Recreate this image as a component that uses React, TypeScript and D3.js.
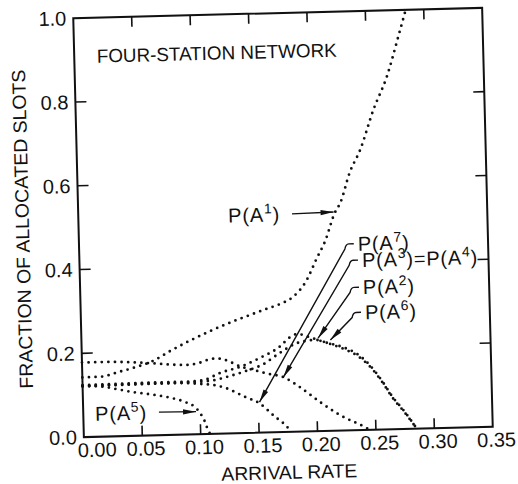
import React from 'react';
import * as d3 from 'd3';

const W = 518;
const H = 484;
const PLOT = { left: 78.5, right: 487.5, top: 13, bottom: 432 };
const ROT = -1.45;
const CX = 283;
const CY = 222.5;
const FONT = '"Liberation Sans", Arial, sans-serif';

// axis ticks
const xTicks = [0, 0.05, 0.1, 0.15, 0.2, 0.25, 0.3, 0.35];
const xTickLabels = ['0.00', '0.05', '0.10', '0.15', '0.20', '0.25', '0.30', '0.35'];
const yTicks = [0, 0.2, 0.4, 0.6, 0.8, 1.0];
const yTickLabels = ['0.0', '0.2', '0.4', '0.6', '0.8', '1.0'];

// series: P(A1)
const a1X = [0, 0.015, 0.032, 0.0435, 0.061, 0.0756, 0.093, 0.11, 0.13, 0.1476, 0.159, 0.171, 0.182, 0.194, 0.203, 0.2105, 0.2197, 0.2242, 0.2334, 0.2425, 0.2547, 0.267, 0.2777, 0.284];
const a1Y = [0.1425, 0.143, 0.154, 0.162, 0.178, 0.2, 0.224, 0.245, 0.267, 0.284, 0.295, 0.306, 0.322, 0.361, 0.412, 0.452, 0.521, 0.542, 0.617, 0.668, 0.763, 0.842, 0.937, 0.995];
// P(A3) = P(A4)
const a3X = [0, 0.02, 0.04, 0.06, 0.075, 0.09, 0.1, 0.108, 0.115, 0.122, 0.1365, 0.1464, 0.159, 0.172, 0.186, 0.203, 0.2196, 0.239, 0.245];
const a3Y = [0.178, 0.178, 0.176, 0.172, 0.168, 0.166, 0.17, 0.177, 0.18, 0.176, 0.158, 0.15, 0.14, 0.131, 0.106, 0.069, 0.037, 0.0095, 0];
// P(A7)
const a7X = [0, 0.03, 0.06, 0.085, 0.1, 0.113, 0.122, 0.139, 0.151, 0.164, 0.171, 0.178];
const a7Y = [0.122, 0.123, 0.124, 0.123, 0.12, 0.116, 0.109, 0.086, 0.07, 0.037, 0.021, 0];
// P(A5)
const a5X = [0, 0.01, 0.02, 0.03, 0.042, 0.06, 0.076, 0.088, 0.0957, 0.1, 0.1035, 0.1055, 0.108];
const a5Y = [0.122, 0.121, 0.118, 0.112, 0.105, 0.097, 0.088, 0.077, 0.065, 0.05, 0.032, 0.016, 0];
// P(A2)
const a2X = [0, 0.03, 0.06, 0.09, 0.105, 0.118, 0.135, 0.152, 0.17, 0.178, 0.185, 0.195, 0.208, 0.2225, 0.235, 0.246, 0.257, 0.265, 0.274, 0.285];
const a2Y = [0.124, 0.125, 0.126, 0.126, 0.13, 0.145, 0.158, 0.178, 0.205, 0.225, 0.233, 0.225, 0.212, 0.2, 0.183, 0.155, 0.113, 0.077, 0.045, 0];
// P(A6)
const a6X = [0, 0.03, 0.06, 0.09, 0.11, 0.125, 0.14, 0.155, 0.17, 0.185, 0.2, 0.212, 0.224, 0.236, 0.246, 0.257, 0.265, 0.274, 0.285];
const a6Y = [0.121, 0.122, 0.123, 0.124, 0.127, 0.136, 0.148, 0.163, 0.19, 0.212, 0.218, 0.208, 0.195, 0.177, 0.152, 0.111, 0.075, 0.043, 0];

const seriesX = [a1X, a3X, a7X, a5X, a2X, a6X];
const seriesY = [a1Y, a3Y, a7Y, a5Y, a2Y, a6Y];

// annotations
const annText = ['P(A1)', 'P(A5)', 'P(A7)', 'P(A3)=P(A4)', 'P(A2)', 'P(A6)'];
const annSide = ['left', 'left', 'right', 'right', 'right', 'right'];
const annLabelX = [0.1726, 0.0545, 0.2385, 0.2418, 0.242, 0.2432];
const annLabelY = [0.52, 0.055, 0.445, 0.4057, 0.341, 0.281];
const annTipX = [0.2185, 0.0965, 0.151, 0.172, 0.2025, 0.213];
const annTipY = [0.522, 0.054, 0.073, 0.131, 0.222, 0.217];

const TITLE = 'FOUR-STATION NETWORK';
const X_TITLE = 'ARRIVAL RATE';
const Y_TITLE = 'FRACTION OF ALLOCATED SLOTS';

function Label({ text, x, y, anchor, size }: { text: string; x: number; y: number; anchor: string; size: number }) {
  const parts = text.split(/(\d)/).filter((p) => p !== '');
  const out: any[] = [];
  let raised = false;
  parts.forEach((p, i) => {
    if (/^\d$/.test(p)) {
      out.push(
        <tspan key={i} dy={-8} fontSize={size * 0.7}>
          {p}
        </tspan>
      );
      raised = true;
    } else {
      out.push(
        <tspan key={i} dy={raised ? 8 : 0}>
          {p}
        </tspan>
      );
      raised = false;
    }
  });
  return (
    <text x={x} y={y} textAnchor={anchor as any} fontSize={size} fontFamily={FONT} letterSpacing={0.8} fill="#111">
      {out}
    </text>
  );
}

export default function App() {
  const x = d3.scaleLinear().domain([0, 0.35]).range([PLOT.left, PLOT.right]);
  const y = d3.scaleLinear().domain([0, 1]).range([PLOT.bottom, PLOT.top]);
  const line = d3
    .line<[number, number]>()
    .x((d) => x(d[0]))
    .y((d) => y(d[1]))
    .curve(d3.curveMonotoneX);

  const innerX = xTicks.filter((t) => t > 0 && t < 0.35);
  const innerY = yTicks.filter((t) => t > 0 && t < 1);

  return (
    <svg
      width={W}
      height={H}
      viewBox={`0 0 ${W} ${H}`}
      style={{ position: 'absolute', left: 0, top: 0, background: '#fff' }}
    >
      <rect x={0} y={0} width={W} height={H} fill="#fff" />
      <g transform={`rotate(${ROT} ${CX} ${CY})`}>
        {/* frame */}
        <rect
          x={PLOT.left}
          y={PLOT.top}
          width={PLOT.right - PLOT.left}
          height={PLOT.bottom - PLOT.top}
          fill="none"
          stroke="#111"
          strokeWidth={2}
        />
        {/* ticks */}
        {innerX.map((t) => (
          <g key={'xt' + t}>
            <line x1={x(t)} x2={x(t)} y1={PLOT.bottom} y2={PLOT.bottom - 10} stroke="#111" strokeWidth={1.6} />
            <line x1={x(t)} x2={x(t)} y1={PLOT.top} y2={PLOT.top + 10} stroke="#111" strokeWidth={1.6} />
          </g>
        ))}
        {innerY.map((t) => (
          <g key={'yt' + t}>
            <line x1={PLOT.left} x2={PLOT.left + 11} y1={y(t)} y2={y(t)} stroke="#111" strokeWidth={1.6} />
            <line x1={PLOT.right} x2={PLOT.right - 11} y1={y(t)} y2={y(t)} stroke="#111" strokeWidth={1.6} />
          </g>
        ))}
        {/* tick labels */}
        {xTicks.map((t, i) => (
          <text
            key={'xl' + t}
            x={x(t) + (i === 0 ? 13 : 3.5)}
            y={PLOT.bottom + 20}
            textAnchor="middle"
            fontSize={20}
            fontFamily={FONT}
            fill="#111"
          >
            {xTickLabels[i]}
          </text>
        ))}
        {yTicks.map((t, i) => (
          <text
            key={'yl' + t}
            x={PLOT.left - 7}
            y={y(t) + 7}
            textAnchor="end"
            fontSize={20}
            fontFamily={FONT}
            fill="#111"
          >
            {yTickLabels[i]}
          </text>
        ))}
        {/* axis titles */}
        <text
          x={(PLOT.left + PLOT.right) / 2}
          y={479}
          textAnchor="middle"
          fontSize={19}
          fontFamily={FONT}
          textLength={136}
          lengthAdjust="spacingAndGlyphs"
          fill="#111"
        >
          {X_TITLE}
        </text>
        <text
          transform={`translate(29 ${(PLOT.top + PLOT.bottom) / 2}) rotate(-90)`}
          textAnchor="middle"
          fontSize={19}
          fontFamily={FONT}
          textLength={319}
          lengthAdjust="spacingAndGlyphs"
          fill="#111"
        >
          {Y_TITLE}
        </text>
        <text
          x={101}
          y={58}
          fontSize={19}
          fontFamily={FONT}
          textLength={240}
          lengthAdjust="spacingAndGlyphs"
          fill="#111"
        >
          {TITLE}
        </text>
        {/* series */}
        {seriesX.map((xs, si) => {
          const pts = xs.map((v, j) => [v, seriesY[si][j]] as [number, number]);
          return (
            <path
              key={'s' + si}
              d={line(pts) || ''}
              fill="none"
              stroke="#111"
              strokeWidth={2.8}
              strokeLinecap="round"
              strokeDasharray="0 6.6"
            />
          );
        })}
        {/* annotations */}
        {annText.map((txt, i) => {
          const lx = x(annLabelX[i]);
          const ly = y(annLabelY[i]);
          const tx = x(annTipX[i]);
          const ty = y(annTipY[i]);
          let d = '';
          let sx = 0;
          let sy = 0;
          if (annSide[i] === 'left') {
            sx = lx + 12;
            sy = ly;
            d = `M${sx},${sy} L${tx},${ty}`;
          } else {
            const hx = lx - 4;
            const cx = lx - 13;
            const cy = ly + 5;
            sx = cx;
            sy = cy;
            d = `M${hx},${ly} L${lx - 9},${ly} Q${lx - 12},${ly} ${cx},${cy} L${tx},${ty}`;
          }
          const ang = Math.atan2(ty - sy, tx - sx);
          const L = 13;
          const wdt = 2.6;
          const bx = tx - L * Math.cos(ang);
          const by = ty - L * Math.sin(ang);
          const px = -Math.sin(ang) * wdt;
          const py = Math.cos(ang) * wdt;
          return (
            <g key={'a' + i}>
              <path d={d} fill="none" stroke="#111" strokeWidth={1.4} />
              <polygon points={`${tx},${ty} ${bx + px},${by + py} ${bx - px},${by - py}`} fill="#111" />
              <Label
                text={txt}
                x={lx}
                y={ly + 7}
                anchor={annSide[i] === 'left' ? 'end' : 'start'}
                size={20}
              />
            </g>
          );
        })}
      </g>
    </svg>
  );
}
